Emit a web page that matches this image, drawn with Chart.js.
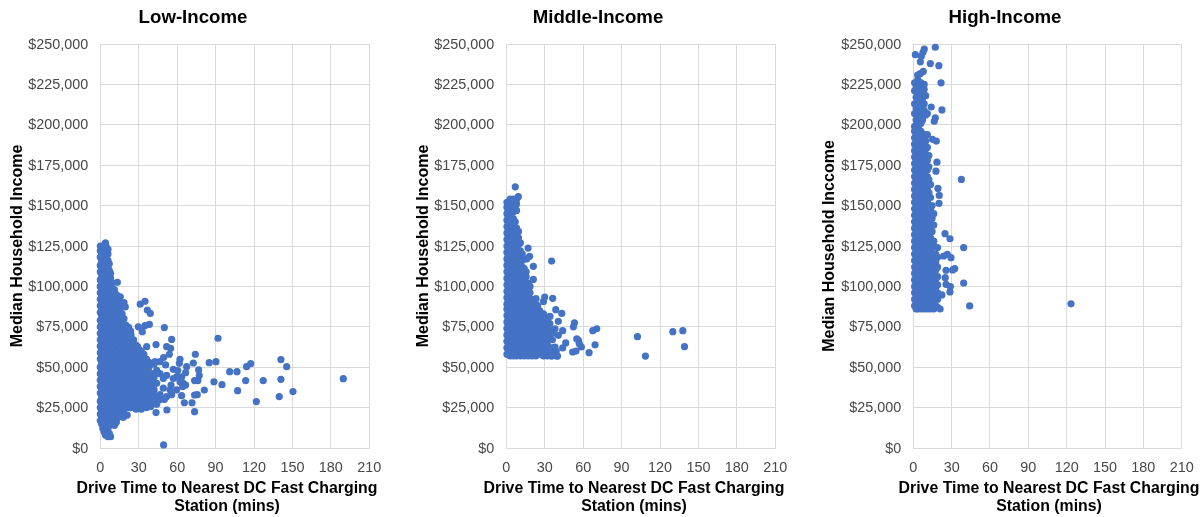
<!DOCTYPE html>
<html><head><meta charset="utf-8">
<style>
html,body{margin:0;padding:0;background:#fff;width:1202px;height:517px;overflow:hidden}
canvas{position:absolute;top:0}
</style>
<script src="https://cdn.jsdelivr.net/npm/chart.js@4"></script>
</head><body>
<canvas id="low" width="400" height="517" style="left:0"></canvas>
<canvas id="mid" width="400" height="517" style="left:404px"></canvas>
<canvas id="high" width="394" height="517" style="left:808px"></canvas>
<script>
// Values. x = minutes; y = median income in $ thousands.
// Dense clouds are listed as [minutes, [incomes...]], stragglers as [minutes, income].
const lowDense = [
[0,[17,21,25,29,34,38,42,46,50,55,59,63,67,71,75,79,84,88,92,96,100,104,109,113,118,122,125]],
[1,[15,19,23,27,31,36,40,44,48,52,57,61,65,69,73,77,82,86,90,94,98,102,106,111,115,120]],
[2,[12,15,19,23,27,32,36,40,44,48,53,57,61,65,69,73,77,82,86,90,94,98,102,107,111,115,120,124,125]],
[3,[10,13,17,21,25,29,34,38,42,46,50,55,59,63,67,71,75,80,84,88,92,96,100,104,109,113,118,122]],
[4,[8,11,14,18,22,26,30,34,38,43,47,51,55,59,63,67,71,75,80,84,88,92,96,100,105,109,113,117,121,126,127]],
[5,[9,16,20,24,28,32,36,40,45,49,53,57,61,65,69,73,77,82,86,90,94,98,102,107,111,115,119,124]],
[6,[7,12,17,21,25,29,33,37,41,45,50,54,58,62,66,70,74,78,82,87,91,95,99,103,107,112,116,120,123]],
[7,[9,14,19,23,27,31,35,39,43,48,52,56,60,64,68,72,76,80,85,89,93,97,101,105,110,114]],
[8,[7,15,19,23,27,31,35,39,43,47,52,56,60,64,68,72,76,80,85,89,93,97,101,105,108]],
[9.5,[16,20,24,28,32,36,40,44,49,53,57,61,65,69,73,77,81,85,89,93,97,102]],
[11,[14,17,21,25,29,33,37,42,46,50,54,58,62,66,70,74,78,82,86,90,94,98]],
[12.5,[16,19,23,27,31,35,39,43,47,52,56,60,64,68,72,76,80,84,88,92,95]],
[14,[19,23,27,31,35,39,44,48,52,56,60,64,68,72,76,80,84,88,92]],
[15.5,[21,25,29,33,37,41,45,50,54,58,62,66,70,74,78,82,86,90]],
[17,[22,25,29,33,37,41,45,50,54,58,62,66,70,74,78,83,88]],
[18.5,[24,27,31,35,39,43,48,52,56,60,64,68,72,76,80,90]],
[20,[25,27,31,35,39,43,47,52,56,60,64,68,72,76]],
[22,[25,28,33,37,41,45,49,53,57,61,65,69,73]],
[24,[25,29,33,37,41,45,49,53,57,61,65,70]],
[26,[26,31,35,39,43,47,51,55,59,63,67]],
[28,[24,27,31,35,39,43,47,51,55,59,63]],
[30,[25,29,33,37,41,45,49,53,57,61]],
[32,[24,29,33,37,41,45,49,53,57,60]],
[34,[26,31,35,39,43,47,51,55,58]],
[36,[25,28,32,36,40,44,48,52,55]],
[38,[27,30,34,38,42,46,50,53]],
[40,[30,34,38,42,46,52]],
[42,[28,36,44,52]],
[44,[27,32,40,48]]
];
const lowSparse = [[189.7,42.9],[150.4,34.9],[145.5,50.3],[141,54.7],[141,42.5],[139.7,31.8],[127.2,41.7],[121.8,28.7],[117.4,52.2],[114.2,50.3],[113.5,41.7],[107.2,35.5],[106.7,47.2],[101,47.2],[95,39.2],[91.9,67.9],[90.3,53.4],[88.7,41],[85,52.8],[81.2,35.9],[77.3,44.8],[76.8,48.3],[76.2,41.7],[74.2,58],[72.6,52.6],[73.6,41.7],[75.7,33],[73.6,32.8],[73.6,22.5],[71.6,28],[67.4,50.3],[66.6,46.6],[65.6,28],[66.6,39],[63.5,32.4],[62.2,54.9],[61.7,52.4],[55.7,67.2],[54.9,61.7],[51.8,62.7],[53.9,58],[50,74.5],[49.4,1.9],[49.4,56],[43.5,64],[52,23.5],[43.5,21.9],[36.2,62.7],[32.8,72],[29.7,75],[34.9,75.7],[38.3,76.5],[34.9,90.8],[31.2,89],[36.7,85.4],[39,83.3],[23.7,72.4],[22.1,74.7],[19.5,87.3],[15.6,93.6],[13.3,102.5],[27.8,63.7],[29.1,62.7],[21,20.4],[18,19],[46.6,53.4],[42.7,53.4],[51,51.4],[57,48.7],[60.4,47.9],[63.5,44],[59.6,44],[57,43],[64.8,40],[55.2,39],[59.6,36],[55.7,33],[51.8,31.8],[49.2,37],[46.6,33],[44,29.7],[49.2,43],[46.6,46],[51.8,45],[39.3,25.6],[41.4,27.6],[46,29.7],[50,30],[54.4,36],[62.2,41],[64.3,38]];

const midDense = [
[0.5,[58,62,66,70,74,78,82,86,89,93,97,101,105,109,113,117,121,125,129,133,137,141,145,149,152]],
[1.5,[60,64,68,72,76,80,84,88,91,95,99,103,107,111,115,119,123,127,131,135,139,143,147,151]],
[3,[57,60,64,68,72,76,80,84,88,92,96,100,104,108,112,116,120,124,128,132,136,140,144,148,152,154]],
[4.5,[59,62,66,70,74,78,82,86,90,94,98,102,106,110,114,118,122,126,130,134,138,142,146,150]],
[5.5,[57,62,66,70,74,78,82,86,90,94,98,102,106,110,114,118,122,126,130,134,138,142,146,150,154]],
[7,[59,64,68,72,76,80,84,88,92,96,100,104,108,112,116,120,124,128,132,136,140]],
[8,[57,60,64,68,72,76,80,84,88,92,96,100,104,108,112,116,120,124,128,132,136,147,151,154]],
[9.5,[59,62,66,70,74,78,82,86,90,94,98,102,106,110,114,118,122,126,130,134]],
[11,[57,62,66,70,74,78,82,86,90,94,98,102,106,110,114,118,122,127]],
[12.5,[59,60,64,68,72,76,80,84,88,92,96,100,104,108,112,116,120]],
[14,[57,60,64,68,72,76,80,84,88,92,96,100,104,108,111]],
[15.5,[59,62,66,70,74,78,82,86,90,94,98,102,106,109]],
[17,[57,62,66,70,74,78,82,86,90,94,98,102]],
[18.5,[59,60,64,68,72,76,80,84,88,92,96,100]],
[20,[57,60,64,68,72,76,80,84,88,92]],
[21.5,[59,62,66,70,74,78,82,86,90]],
[23,[57,62,66,70,74,78,82,86,89]],
[24.5,[59,60,64,68,72,76,80,84,88]],
[26,[58,61,65,69,73,77,81,85]],
[27.5,[59,63,67,71,75,79,83]],
[29,[57,62,67,71,75,79,83]],
[31,[59,65,70,74,78,81]],
[32,[57,60,64,72,76,80]],
[34,[58,62,68,73,77]],
[36,[58,62,67,71]],
[39,[57,60]]
];
const midSparse = [[7,161.6],[9.4,155.5],[17,123.7],[18.2,118.6],[15.9,117],[21.1,112.4],[35.4,115.7],[21.1,104.3],[30,93.4],[36.2,92.6],[23.2,92.4],[29,90.7],[38.6,85.6],[43.3,83.3],[34.1,81.4],[40.6,78.4],[53.2,77.5],[52.4,75],[44,72.6],[38,73.8],[40.6,69.7],[70.6,73.8],[67.5,72.6],[102.4,68.9],[130,72],[137.8,72.6],[139.1,62.7],[108.6,56.9],[69.3,63.9],[64.6,59],[58.6,62.5],[56.3,66.6],[55,67.6],[57,64.5],[51.8,59.4],[54.4,60],[46.4,65],[44,61.9],[40,56.9],[35.4,56.9],[38,62.5]];

const highDense = [
[1,[88,92,96,100,104,108,112,116,120,124,128,132,136,140,144,148,152,156,160,164,168,172,176,180,184,188,192,196,199,207,213,221,226]],
[2.2,[86,90,94,98,102,106,110,114,118,122,126,130,134,138,142,146,150,154,158,162,166,170,174,178,182,186,190,194,198,203,210,217,223]],
[3.5,[86,90,94,98,102,106,110,114,118,122,126,130,134,138,142,146,150,154,158,162,166,170,174,178,182,186,190,194,198,202,208,215,219,224,228]],
[4.7,[88,92,96,100,104,108,112,116,120,124,128,132,136,140,144,148,152,156,160,164,168,172,176,180,184,188,192,196,200,206,212,216,221,226]],
[6,[86,88,92,96,100,104,108,112,116,120,124,128,132,136,140,144,148,152,156,160,164,168,172,176,180,184,188,192,196,201,205,211,214,218,223,226]],
[7.2,[88,90,94,98,102,106,110,114,118,122,126,130,134,138,142,146,150,154,158,162,166,170,174,178,182,186,190,194,203,216,220]],
[8.5,[86,90,94,98,102,106,110,114,118,122,126,130,134,138,142,146,150,154,158,162,166,170,174,178,182,186,190,194,209,213,222,225]],
[9.7,[88,92,96,100,104,108,112,116,120,124,128,132,136,140,144,148,152,156,160,164,168,172,176,182,190,206,218]],
[11,[86,88,92,96,100,104,108,112,116,120,124,128,132,136,140,144,148,152,156,160,164,168,172,178,186,194,207]],
[12.2,[88,90,94,98,102,106,110,114,118,122,126,130,134,138,142,146,150,158,166,174,181]],
[13.5,[86,90,94,98,102,106,110,114,118,122,126,130,134,138,143,148,155,163]],
[14.7,[88,92,96,100,104,108,112,116,120,124,127,134,142,150]],
[16,[86,88,92,96,100,104,108,112,116,120,125,128,138,145]],
[17.5,[88,94,99,104,110,115,120]],
[19,[87,92,96,101,106,112,118,124]]
];
const highSparse = [[17.2,248],[8.6,246.9],[7.6,244.9],[1.6,243.4],[5.5,239],[6.3,242.4],[13.3,237.9],[20,236.6],[7.8,233],[3.4,230.8],[5.5,231.7],[21.7,226],[22.4,209.2],[14,211],[17.2,204.3],[16.4,202.2],[18,189.9],[15,191],[18.5,176.9],[17.7,171.3],[37.6,166.2],[19.3,160.6],[20.3,156.3],[20.1,151.4],[24.8,132.6],[28.7,129.5],[39.4,124],[26.6,119.9],[29.5,117.8],[23.7,118.8],[32.4,111],[30.8,110.2],[25.6,110],[39.4,102.1],[29,99.9],[28.7,96.6],[22.4,94.7],[25.6,101.3],[25,105.4],[44.1,87.9],[21,86],[123.4,89.2]];

const titles = ["Low-Income","Middle-Income","High-Income"];
const yTitles = ["Median Household Income","Median Household Income","Median Household Inccome"];
const xTitleLines = ["Drive Time to Nearest DC Fast Charging","Station (mins)"];

const FONT = '"Liberation Sans", Arial, sans-serif';
const GRID = '#D9D9D9', TICK = '#484848', INK = '#000000', DOT = '#4472C4';

function points(dense, sparse){
  const out = [];
  dense.forEach(([x,ys]) => ys.forEach(y => out.push({x, y: y*1000})));
  sparse.forEach(([x,y]) => out.push({x, y: y*1000}));
  return out;
}

const textPlugin = {
  id:'placedText',
  afterDraw(chart, _a, o){
    const c = chart.ctx;
    c.save();
    c.fillStyle = INK;
    c.textAlign = 'center';
    c.textBaseline = 'middle';
    c.font = 'bold 18.67px ' + FONT;
    c.fillText(o.title, o.titleX, 18);
    c.font = 'bold 15.85px ' + FONT;
    xTitleLines.forEach((t,i) => c.fillText(t, o.axisX, 489 + i*18));
    c.restore();
  }
};

function make(id, title, yTitle, data, plotLeft, plotWidth, yTitlePad, titleX, axisX){
  const canvas = document.getElementById(id);
  new Chart(canvas, {
    type:'scatter',
    data:{datasets:[{data, backgroundColor:DOT, borderWidth:0, pointRadius:3.6, pointHoverRadius:3.6, clip:false}]},
    plugins:[textPlugin],
    options:{
      responsive:false, animation:false, events:[],
      layout:{padding:{left:0,right:canvas.width-plotLeft-plotWidth,top:44,bottom:0}},
      plugins:{
        legend:{display:false}, tooltip:{enabled:false},
        placedText:{title, titleX, axisX}
      },
      scales:{
        x:{type:'linear',min:0,max:210,
          afterFit(s){s.height=69;s.paddingLeft=0;s.paddingRight=0;},
          grid:{color:GRID,drawTicks:false},border:{color:GRID},
          ticks:{stepSize:30,color:TICK,font:{family:FONT,size:14.4},padding:11,maxRotation:0,autoSkip:false}},
        y:{type:'linear',min:0,max:250000,
          afterFit(s){s.width=plotLeft;s.paddingTop=0;s.paddingBottom=0;},
          title:{display:true,text:yTitle,color:INK,font:{family:FONT,size:16,weight:'bold',lineHeight:1.2},padding:{top:yTitlePad,bottom:0}},
          grid:{color:GRID,drawTicks:false},border:{color:GRID},
          ticks:{stepSize:25000,color:TICK,font:{family:FONT,size:14.4},padding:12,autoSkip:false,labelOffset:0.7,
            callback:v=>'$'+Number(v).toLocaleString('en-US')}}
      }
    }
  });
}
make('low', titles[0], yTitles[0], points(lowDense,lowSparse), 100.3, 269, 8, 193, 227);
make('mid', titles[1], yTitles[1], points(midDense,midSparse), 102.3, 269, 10, 194, 230);
make('high',titles[2], yTitles[2], points(highDense,highSparse), 105.3, 268.4, 12, 197, 241);
</script>
</body></html>
